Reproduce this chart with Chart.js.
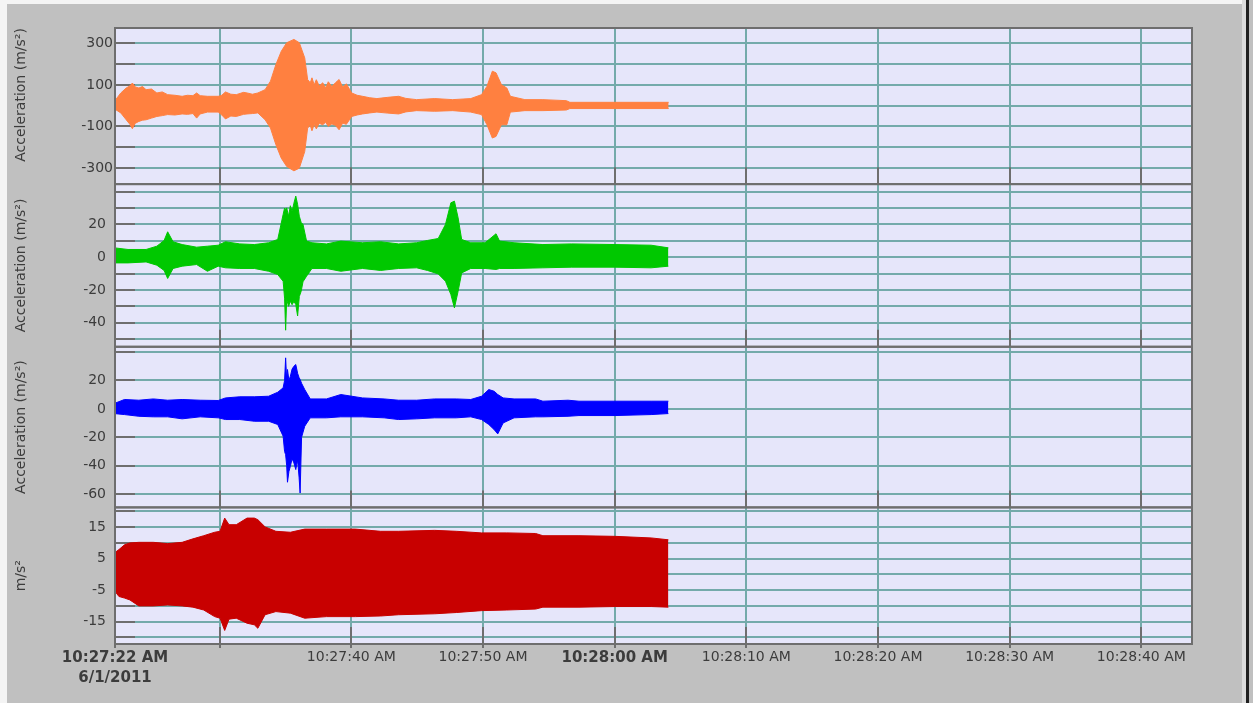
<!DOCTYPE html>
<html>
<head>
<meta charset="utf-8">
<script src="https://cdn.jsdelivr.net/npm/chart.js@4.4.1/dist/chart.umd.min.js"></script>
<style>
  html, body { margin: 0; padding: 0; background: #c0c0c0; }
  #wrap { position: relative; width: 1253px; height: 703px; overflow: hidden; }
  .edge { position: absolute; }
  canvas { position: absolute; left: 0; top: 0; }
</style>
</head>
<body>
<div id="wrap">
  <div class="edge" style="left:0;top:0;width:1242px;height:4px;background:#f4f4f4"></div>
  <div class="edge" style="left:0;top:0;width:7px;height:703px;background:#f4f4f4"></div>
  <div class="edge" style="left:1242px;top:0;width:4px;height:703px;background:#dcdcdc"></div>
  <div class="edge" style="left:1246px;top:0;width:3px;height:703px;background:#202020"></div>
  <canvas id="graficoSismo" width="1253" height="703"></canvas>
</div>
<script>
// tempo em segundos contados a partir de 10:27:00
const xMin = 22.05, xMax = 103.85;
const xTickVals = [22.05, 30, 40, 50, 60, 70, 80, 90, 100];
const xTickText = [['10:27:22 AM', '6/1/2011'], '', '10:27:40 AM', '10:27:50 AM', '10:28:00 AM',
                   '10:28:10 AM', '10:28:20 AM', '10:28:30 AM', '10:28:40 AM'];
const xTickBold = [true, false, false, false, true, false, false, false, false];

// canal 1 (laranja) - envelope superior / inferior
const t1 = [22.0, 22.49, 22.9, 23.18, 23.37, 23.59, 23.86, 24.14, 24.41, 24.82, 25.23, 25.64, 26.05, 26.6,
            27.15, 27.56, 27.97, 28.25, 28.52, 29.07, 29.89, 30.16, 30.44, 30.85, 31.26, 31.81, 32.08, 32.49,
            32.9, 33.45, 33.86, 34.27, 34.68, 35.09, 35.64, 36.05, 36.46, 36.68, 36.88, 37.01, 37.18, 37.34,
            37.56, 37.83, 38.05, 38.25, 38.52, 38.79, 39.07, 39.34, 39.62, 40.03, 40.44, 40.85, 41.4, 41.94,
            42.77, 43.59, 44.14, 44.96, 46.33, 47.7, 49.07, 49.89, 50.3, 50.71, 50.99, 51.4, 51.81, 52.08,
            53.18, 54.55, 56.33, 56.6, 64.1];
const hi1 = [20, 61, 85, 95, 109, 90, 85, 92, 77, 80, 61, 66, 53, 50,
             45, 50, 48, 61, 48, 45, 45, 50, 66, 55, 53, 64, 61, 55,
             61, 77, 118, 198, 262, 303, 319, 303, 230, 126, 110, 134, 100, 125,
             95, 110, 85, 115, 92, 110, 126, 90, 105, 61, 50, 45, 38, 34,
             40, 45, 35, 29, 34, 29, 34, 53, 93, 166, 158, 101, 85, 45,
             29, 29, 24, 16, 16];
const lo1 = [-15, -35, -68, -90, -111, -85, -76, -70, -68, -60, -52, -48, -43, -45,
             -40, -42, -38, -60, -40, -31, -31, -45, -64, -50, -52, -42, -40, -38,
             -35, -68, -108, -188, -253, -293, -314, -301, -221, -108, -95, -121, -90, -112,
             -85, -92, -80, -100, -88, -95, -116, -84, -90, -52, -45, -40, -35, -31,
             -36, -40, -30, -24, -27, -24, -31, -43, -92, -156, -148, -92, -92, -31,
             -24, -24, -21, -14, -14];

// canal 2 (verde)
const t2 = [22.0, 23.04, 24.41, 25.23, 25.78, 26.05, 26.46, 27.15, 28.25, 29.07, 29.89, 30.44, 31.53, 32.63,
            33.72, 34.41, 34.82, 34.93, 35.01, 35.09, 35.23, 35.37, 35.5, 35.64, 35.78, 35.92, 36.05, 36.19,
            36.33, 36.6, 37.01, 38.11, 39.2, 40.85, 42.22, 43.59, 44.96, 45.78, 46.6, 47.15, 47.56, 47.83,
            48.11, 48.38, 49.07, 50.16, 50.99, 51.26, 52.36, 54.55, 56.74, 60.03, 62.77, 64.08];
const hi2 = [5.7, 4.7, 4.7, 6.7, 10.2, 15.5, 9.4, 7.7, 6.1, 6.7, 7.3, 9.4, 8.1, 7.7,
             8.8, 10.8, 26.1, 30, 29, 30.1, 25, 31.4, 28, 33, 37.3, 32.2, 25, 21.2,
             20, 9.8, 8.8, 8.1, 9.8, 8.8, 9.4, 8.1, 8.8, 10.2, 11.4, 20.0, 33.2, 34.2,
             24.0, 10.8, 8.8, 8.8, 14.3, 9.8, 8.8, 7.7, 8.1, 7.7, 7.3, 5.7];
const lo2 = [-3.5, -3.5, -2.9, -4.9, -8.1, -13.0, -6.9, -5.5, -4.5, -8.6, -5.5, -6.5, -6.9, -6.9,
             -8.6, -10.6, -14.7, -25, -44.6, -25.7, -30, -26.9, -29, -27, -28.9, -35.9, -24, -20.8,
             -15, -11.6, -6.9, -6.9, -8.6, -6.9, -8.1, -6.9, -6.5, -8.1, -10.2, -14.7, -22.8, -31.0,
             -20.8, -9.6, -6.9, -6.9, -7.5, -6.9, -6.9, -6.5, -6.1, -6.1, -6.5, -5.5];

// canal 3 (azul)
const t3 = [22.0, 22.77, 23.86, 24.96, 26.05, 27.15, 28.52, 29.89, 30.44, 31.53, 32.63, 33.72, 34.41, 34.82,
            34.93, 35.01, 35.09, 35.15, 35.26, 35.37, 35.5, 35.64, 35.78, 35.92, 36.03, 36.11, 36.22, 36.46,
            36.88, 38.11, 39.2, 40.85, 42.49, 43.59, 44.96, 46.33, 47.97, 49.07, 49.89, 50.44, 50.85, 51.12,
            51.53, 52.36, 54.0, 54.55, 56.46, 57.29, 60.03, 62.77, 64.08];
const hi3 = [3.8, 6.6, 6.1, 7.0, 6.1, 6.6, 6.1, 5.9, 7.7, 8.5, 8.5, 8.9, 11.7, 14.8,
             20, 35.9, 20, 27.7, 20, 23.0, 28, 30, 31.2, 25, 22, 20.7, 18, 13.6,
             7.0, 7.0, 10.1, 7.7, 7.0, 6.1, 6.1, 7.0, 7.0, 6.6, 8.9, 13.6, 12.4, 10.1,
             7.7, 7.0, 7.0, 5.4, 6.1, 5.4, 5.4, 5.4, 5.4];
const lo3 = [-3.3, -4.0, -5.2, -5.6, -5.6, -7.0, -5.6, -6.3, -7.5, -7.5, -8.7, -8.7, -11.0, -19.2,
             -30, -32.2, -40, -51.6, -44, -40.4, -35, -38, -42.7, -36, -48, -59.2, -20, -12.2,
             -6.3, -6.3, -5.6, -5.6, -6.3, -7.5, -7.0, -6.3, -6.3, -5.6, -7.5, -11.0, -14.6, -17.6,
             -9.9, -6.3, -5.6, -5.6, -5.2, -4.7, -4.7, -4.0, -3.3];

// canal 4 (vermelho)
const t4 = [22.0, 22.35, 22.77, 23.18, 23.86, 24.96, 26.05, 27.15, 27.97, 28.79, 29.62, 30.03, 30.38, 30.71,
            31.26, 32.08, 32.63, 32.9, 33.45, 34.27, 35.37, 36.46, 38.11, 40.3, 42.22, 43.59, 46.33, 47.97,
            49.89, 51.81, 54.0, 54.55, 57.29, 60.03, 62.77, 64.08];
const hi4 = [6.8, 7.9, 9.4, 10.0, 10.2, 10.2, 9.8, 10.2, 11.3, 12.3, 13.4, 13.7, 17.9, 15.8,
             15.8, 17.9, 17.9, 17.4, 15.1, 13.7, 13.4, 14.4, 14.4, 14.4, 13.7, 13.7, 14.0, 13.7,
             13.2, 13.2, 13.0, 12.3, 12.3, 12.1, 11.6, 11.0];
const lo4 = [-5.1, -7.0, -7.5, -8.1, -10.0, -10.0, -9.7, -10.0, -10.4, -11.3, -13.4, -13.9, -17.8, -14.2,
             -13.9, -15.5, -16.0, -17.1, -12.8, -11.8, -12.3, -13.9, -13.4, -13.4, -13.2, -12.8, -12.5, -12.1,
             -11.5, -11.3, -11.0, -10.4, -10.4, -10.2, -10.2, -10.4];

// grades e rótulos dos eixos y
const grade1 = [300, 200, 100, 0, -100, -200, -300];
const rotulos1 = [300, 100, -100, -300];
const grade2 = [40, 30, 20, 10, 0, -10, -20, -30, -40, -50];
const rotulos2 = [20, 0, -20, -40];
const grade3 = [40, 20, 0, -20, -40, -60];
const rotulos3 = [20, 0, -20, -40, -60];
const grade4 = [20, 15, 10, 5, 0, -5, -10, -15, -20];
const rotulos4 = [15, 5, -5, -15];

const fonte = 'DejaVu Sans';
const corTexto = '#3c3c3c';
const corGrade = '#74aaaa';
const corBorda = '#6e6e6e';

function pontos(ts, vs) {
    return ts.map((t, i) => ({ x: t, y: vs[i] }));
}

function faixa(ts, hi, lo, cor, eixo) {
    const base = { borderColor: cor, backgroundColor: cor, borderWidth: 1, pointRadius: 0, tension: 0, yAxisID: eixo };
    return [
        Object.assign({ data: pontos(ts, hi), fill: '+1' }, base),
        Object.assign({ data: pontos(ts, lo), fill: false }, base)
    ];
}

function eixoY(peso, altura, min, max, grade, rotulos, titulo, pad) {
    return {
        type: 'linear', position: 'left', stack: 'paineis', stackWeight: altura, weight: peso,
        min: min, max: max,
        afterFit: s => { s.width = 102; },
        afterBuildTicks: s => { s.ticks = grade.map(v => ({ value: v })); },
        grid: { color: corGrade, lineWidth: 2, drawTicks: false },
        border: { display: false },
        ticks: {
            autoSkip: false, padding: pad, color: corTexto,
            font: { family: fonte, size: 14 },
            callback: v => rotulos.includes(v) ? String(v) : ''
        },
        title: { display: true, text: titulo, color: corTexto, padding: 0, font: { family: fonte, size: 14 } }
    };
}

// fundo lavanda, marcas internas e bordas de cada painel
const paineis = {
    id: 'paineis',
    beforeDraw(chart) {
        const a = chart.chartArea, ctx = chart.ctx;
        ctx.save();
        ctx.fillStyle = '#e6e6fa';
        ctx.fillRect(a.left, a.top, a.right - a.left, a.bottom - a.top);
        ctx.restore();
    },
    beforeDatasetsDraw(chart) {
        const a = chart.chartArea, ctx = chart.ctx, xs = chart.scales.x;
        ctx.save();
        ctx.strokeStyle = corBorda;
        ctx.lineWidth = 2;
        ['y1', 'y2', 'y3', 'y4'].forEach(id => {
            const s = chart.scales[id];
            s.ticks.forEach(t => {
                const y = Math.round(s.getPixelForValue(t.value));
                ctx.beginPath(); ctx.moveTo(a.left, y); ctx.lineTo(a.left + 20, y); ctx.stroke();
            });
            xs.ticks.forEach(t => {
                const x = Math.round(xs.getPixelForValue(t.value));
                ctx.beginPath(); ctx.moveTo(x, s.bottom - 17); ctx.lineTo(x, s.bottom + (id === 'y4' ? 4 : 0)); ctx.stroke();
            });
        });
        ctx.restore();
    },
    afterDraw(chart) {
        const a = chart.chartArea, ctx = chart.ctx;
        ctx.save();
        ctx.strokeStyle = corBorda;
        ctx.lineWidth = 2;
        ['y1', 'y2', 'y3', 'y4'].forEach(id => {
            const s = chart.scales[id];
            ctx.strokeRect(a.left, s.top, a.right - a.left, s.bottom - s.top);
        });
        ctx.restore();
    }
};

const ctx = document.getElementById('graficoSismo').getContext('2d');
const grafico = new Chart(ctx, {
    type: 'line',
    data: {
        datasets: [].concat(
            faixa(t1, hi1, lo1, '#ff8040', 'y1'),
            faixa(t2, hi2, lo2, '#00c800', 'y2'),
            faixa(t3, hi3, lo3, '#0000ff', 'y3'),
            faixa(t4, hi4, lo4, '#c80000', 'y4')
        )
    },
    options: {
        responsive: false,
        animation: false,
        layout: { padding: { left: 13, top: 28, right: 61, bottom: 0 } },
        plugins: {
            legend: { display: false },
            tooltip: { enabled: false }
        },
        scales: {
            x: {
                type: 'linear', min: xMin, max: xMax,
                afterFit: s => { s.height = 59; },
                afterBuildTicks: s => { s.ticks = xTickVals.map(v => ({ value: v })); },
                grid: { color: corGrade, lineWidth: 2, drawTicks: false },
                border: { display: false },
                ticks: {
                    autoSkip: false, maxRotation: 0, padding: 4, color: corTexto,
                    font: c => ({ family: fonte, size: xTickBold[c.index] ? 15 : 14, lineHeight: 1.35,
                                  weight: xTickBold[c.index] ? 'bold' : 'normal' }),
                    callback: (v, i) => xTickText[i]
                }
            },
            y1: eixoY(4, 156, -378, 374, grade1, rotulos1, '     Acceleration (m/s²)', 2),
            y2: eixoY(3, 162.5, -54.7, 44.6, grade2, rotulos2, 'Acceleration (m/s²)', 9),
            y3: eixoY(2, 160.5, -69.3, 43.7, grade3, rotulos3, 'Acceleration (m/s²)', 9),
            y4: eixoY(1, 136.5, -22.1, 21.3, grade4, rotulos4, 'm/s²', 9)
        }
    },
    plugins: [paineis]
});
</script>
</body>
</html>
